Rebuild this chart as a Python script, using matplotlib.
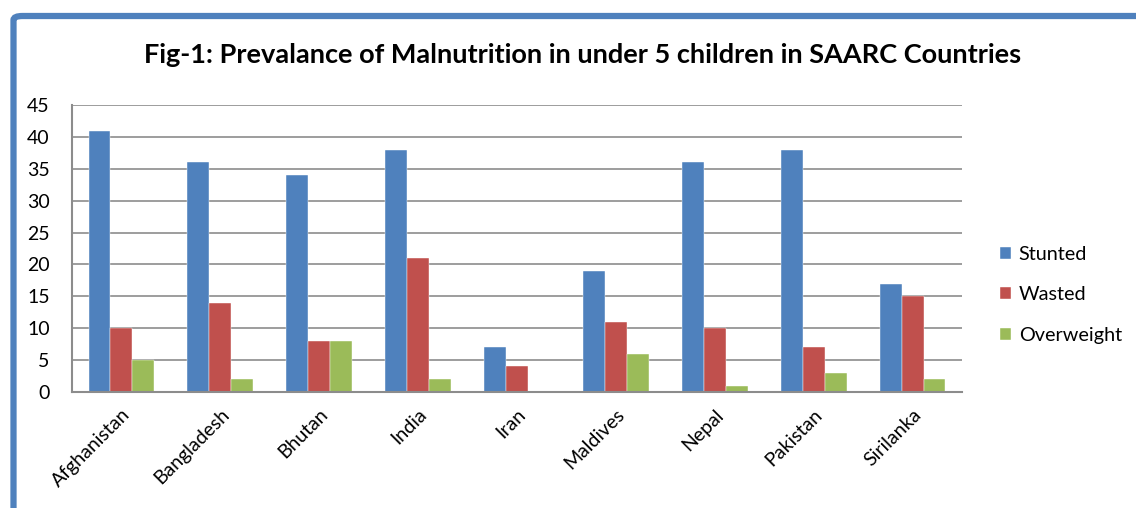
import matplotlib.pyplot as plt
import numpy as np
from matplotlib.patches import FancyBboxPatch

countries = ["Afghanistan", "Bangladesh", "Bhutan", "India", "Iran",
             "Maldives", "Nepal", "Pakistan", "Sirilanka"]
stunted = [41, 36, 34, 38, 7, 19, 36, 38, 17]
wasted = [10, 14, 8, 21, 4, 11, 10, 7, 15]
overweight = [5, 2, 8, 2, 0, 6, 1, 3, 2]

series = [("Stunted", stunted, "#4F81BD"),
          ("Wasted", wasted, "#C0504D"),
          ("Overweight", overweight, "#9BBB59")]

plt.rcParams["font.family"] = ["Lato", "DejaVu Sans"]

W, H = 1136, 508
fig = plt.figure(figsize=(W / 100, H / 100), dpi=100)

# blue frame (left and top edges visible, the rest runs off the image)
frame = FancyBboxPatch((13.5 / W, -40 / H), (W + 60) / W, (H - 16 + 40) / H,
                       boxstyle="round,pad=0,rounding_size=0.008",
                       transform=fig.transFigure, fill=False,
                       edgecolor="#4F81BD", linewidth=4.5, clip_on=False)
fig.patches.append(frame)

ax = fig.add_axes([72 / W, 1 - 392 / H, 890 / W, 287 / H])
x = np.arange(len(countries))
bw = 0.222
for i, (name, vals, color) in enumerate(series):
    ax.bar(x + (i - 1) * bw, vals, width=bw, color=color, label=name,
           edgecolor="white", linewidth=0.3)

ax.set_xlim(-0.5, len(countries) - 0.5)
ax.set_ylim(0, 45)
ax.set_yticks(range(0, 46, 5))
ax.yaxis.grid(True, color="#8C8C8C", linewidth=1.2)
ax.set_axisbelow(True)
for s in ["top", "right"]:
    ax.spines[s].set_visible(False)
for s in ["left", "bottom"]:
    ax.spines[s].set_color("#8C8C8C")
    ax.spines[s].set_linewidth(1.5)
ax.tick_params(axis="y", length=0, labelsize=14, pad=16)
ax.tick_params(axis="x", length=0, labelsize=14, pad=10)
ax.set_xticks(x)
ax.set_xticklabels(countries, rotation=45, ha="right", rotation_mode="anchor")

fig.text(583 / W, 1 - 55 / H,
         "Fig-1: Prevalance of Malnutrition in under 5 children in SAARC Countries",
         ha="center", va="center", fontsize=19.5, fontweight="bold")

handles, labels = ax.get_legend_handles_labels()
fig.legend(handles, labels, loc="center left", bbox_to_anchor=(982 / W, 1 - 295 / H),
           frameon=False, fontsize=14.3, handlelength=0.55, handleheight=0.55,
           handletextpad=0.4, labelspacing=1.2)

fig.savefig("out.png", dpi=100)
